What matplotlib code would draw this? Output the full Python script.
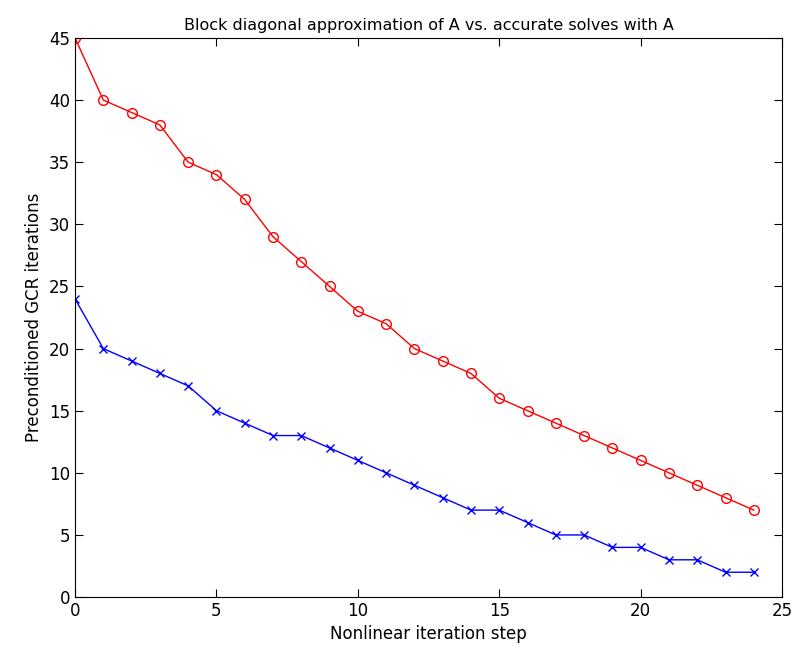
import matplotlib
matplotlib.use('Agg')
import matplotlib.pyplot as plt

pasos = list(range(25))
iter_exactas = [45, 40, 39, 38, 35, 34, 32, 29, 27, 25, 23, 22, 20, 19, 18,
                16, 15, 14, 13, 12, 11, 10, 9, 8, 7]
iter_bloque = [24, 20, 19, 18, 17, 15, 14, 13, 13, 12, 11, 10, 9, 8, 7,
               7, 6, 5, 5, 4, 4, 3, 3, 2, 2]

fig = plt.figure(figsize=(7.94, 6.49), dpi=100)
ax = fig.add_axes([0.0945, 0.080, 0.8905, 0.8615])

ax.plot(pasos, iter_exactas, color='red', marker='o', markersize=7,
        markerfacecolor='none', linewidth=1)
ax.plot(pasos, iter_bloque, color='blue', marker='x', markersize=6,
        linewidth=1)

ax.set_xlim(0, 25)
ax.set_ylim(0, 45)
ax.set_xticks(range(0, 26, 5))
ax.set_yticks(range(0, 46, 5))
ax.tick_params(direction='in', top=True, right=True, labelsize=12, length=6)
ax.set_xlabel('Nonlinear iteration step', fontsize=12)
ax.set_ylabel('Preconditioned GCR iterations', fontsize=12)
ax.set_title('Block diagonal approximation of A vs. accurate solves with A', fontsize=11.5)

fig.savefig('out.png', dpi=100)
